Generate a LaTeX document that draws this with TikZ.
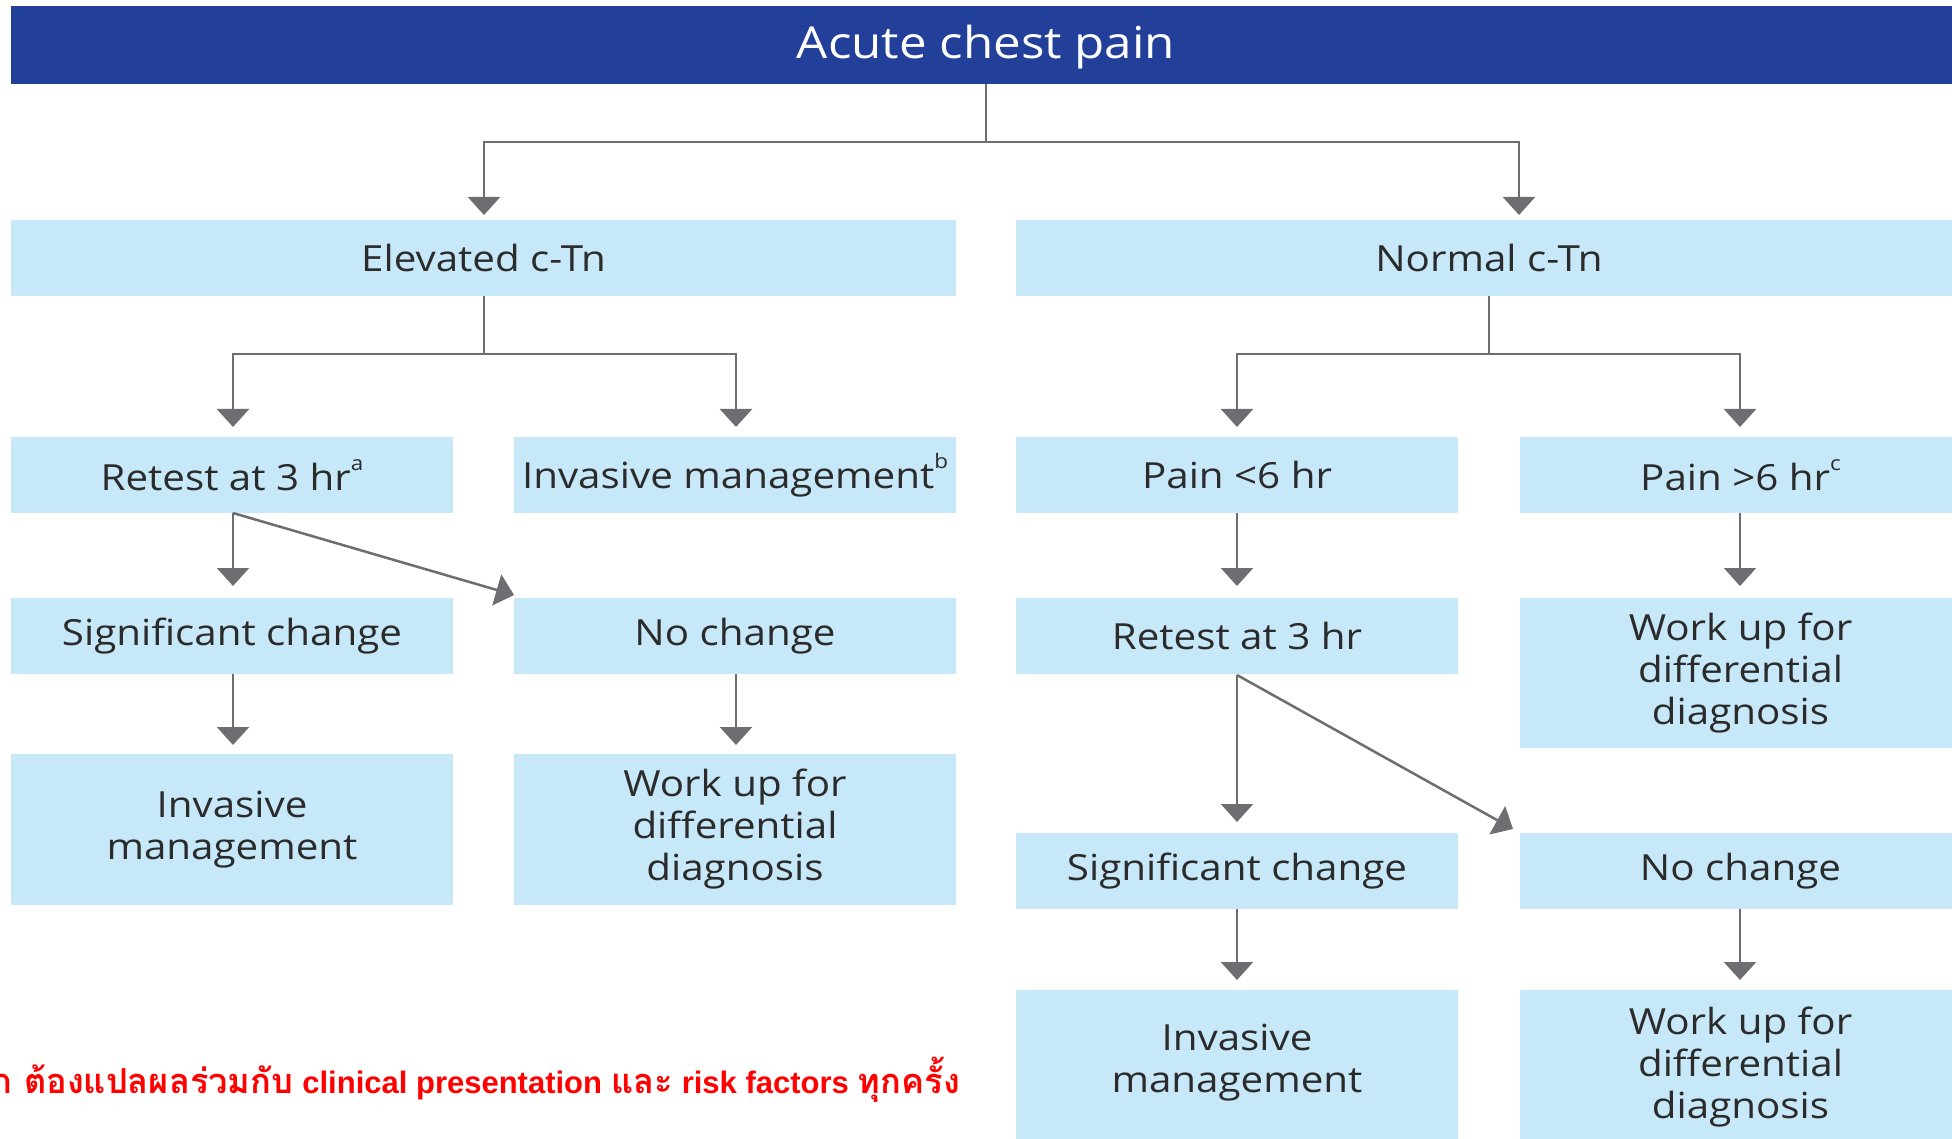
\documentclass[tikz,border=0pt]{standalone}
\usepackage{fontspec}
\setmainfont{Open Sans}[FakeStretch=1.12]
\newfontfamily\thaifont[Script=Thai,Scale=1.11]{Loma}
\newfontfamily\latinfont{Liberation Sans}
\usetikzlibrary{arrows.meta}
\definecolor{hdrblue}{HTML}{22409A}
\definecolor{boxblue}{HTML}{C7E8F8}
\definecolor{linegray}{HTML}{6D6E71}
\definecolor{txtgray}{HTML}{2B2B2B}
\definecolor{notered}{HTML}{FF0000}
\newcommand{\supmark}[1]{\raisebox{0.55em}{\fontsize{20}{20}\selectfont #1}}
\begin{document}
\begin{tikzpicture}[x=1pt,y=-1pt,
  box/.style={fill=boxblue, draw=none, inner sep=0pt, align=center, text=txtgray,
    font=\fontsize{36}{42}\selectfont, minimum height=76pt, minimum width=442pt},
  conn/.style={draw=linegray, line width=2.5pt},
  arr/.style={conn, -{Triangle[width=32pt,length=18pt]}},
]
\useasboundingbox[fill=white] (0,0) rectangle (1952,1139);

% header
\node[fill=hdrblue, inner sep=0pt, minimum width=1950pt, minimum height=78pt] (hdr) at (986,45) {};
\node[text=white, inner sep=0pt, font=\fontsize{44}{50}\selectfont] (hdrt) at (986,47) {Acute chest pain};

% level 2
\node[box, minimum width=945pt] (el) at (483.5,258) {Elevated c-Tn};
\node[box, minimum width=946pt] (nm) at (1489,258) {Normal c-Tn};

% level 3
\node[box] (rt1) at (232,475) {Retest at 3 hr\supmark{a}};
\node[box] (ib) at (735,475) {Invasive management\supmark{b}};
\node[box] (pl) at (1237,475) {Pain <6 hr};
\node[box] (pg) at (1740.5,475) {Pain >6 hr\supmark{c}};

% level 4
\node[box] (sc1) at (232,636) {Significant change};
\node[box] (nc1) at (735,636) {No change};
\node[box] (rt2) at (1237,636) {Retest at 3 hr};
\node[box, minimum height=150pt] (wu3) at (1740.5,673) {Work up for\\differential\\diagnosis};

% level 5 left
\node[box, minimum height=151pt] (im1) at (232,829.5) {Invasive\\management};
\node[box, minimum height=151pt] (wu1) at (735,829.5) {Work up for\\differential\\diagnosis};

% right lower
\node[box] (sc2) at (1237,871) {Significant change};
\node[box] (nc2) at (1740.5,871) {No change};
\node[box, minimum height=160pt] (im2) at (1237,1070) {};
\node[box, minimum height=160pt] (wu2) at (1740.5,1070) {};
\node[text=txtgray, align=center, inner sep=0pt, font=\fontsize{36}{42}\selectfont] (im2t) at (1237,1063) {Invasive\\management};
\node[text=txtgray, align=center, inner sep=0pt, font=\fontsize{36}{42}\selectfont] (wu2t) at (1740.5,1067) {Work up for\\differential\\diagnosis};

% red note
\node[anchor=base east, inner sep=0pt, text=notered, font=\fontsize{31}{36}\selectfont\bfseries] (note) at (960,1093)
  {{\thaifont\bfseries ก ต้องแปลผลร่วมกับ} {\latinfont\bfseries clinical presentation} {\thaifont\bfseries และ} {\latinfont\bfseries risk factors} {\thaifont\bfseries ทุกครั้ง}};

% junction coordinates
\coordinate (j0) at (986,142);
\coordinate (elin) at (484,215);
\coordinate (nmin) at (1519,215);
\coordinate (j1) at (484,354);
\coordinate (rt1in) at (233,427);
\coordinate (ibin) at (736,427);
\coordinate (j2) at (1489,354);
\coordinate (plin) at (1237,427);
\coordinate (pgin) at (1740,427);
\coordinate (rt1out) at (233,513);
\coordinate (sc1in) at (233,586);
\coordinate (nc1in) at (514,595);
\coordinate (pgout) at (1740,513);
\coordinate (wu3in) at (1740,586);
\coordinate (plout) at (1237,513);
\coordinate (rt2in) at (1237,586);
\coordinate (sc1out) at (233,674);
\coordinate (im1in) at (233,745);
\coordinate (nc1out) at (736,674);
\coordinate (wu1in) at (736,745);
\coordinate (rt2out) at (1237,675);
\coordinate (sc2in) at (1237,822);
\coordinate (nc2in) at (1513,829);
\coordinate (sc2out) at (1237,909);
\coordinate (im2in) at (1237,980);
\coordinate (nc2out) at (1740,909);
\coordinate (wu2in) at (1740,980);

% connectors
\draw[conn] (hdr.south -| j0) -- (j0);
\draw[arr] (j0) -| (elin);
\draw[arr] (j0) -| (nmin);
\draw[conn] (el.south -| j1) -- (j1);
\draw[arr] (j1) -| (rt1in);
\draw[arr] (j1) -| (ibin);
\draw[conn] (nm.south -| j2) -- (j2);
\draw[arr] (j2) -| (plin);
\draw[arr] (j2) -| (pgin);
\draw[arr] (rt1out) -- (sc1in);
\draw[arr] (rt1out) -- (nc1in);
\draw[arr] (plout) -- (rt2in);
\draw[arr] (pgout) -- (wu3in);
\draw[arr] (sc1out) -- (im1in);
\draw[arr] (nc1out) -- (wu1in);
\draw[arr] (rt2out) -- (sc2in);
\draw[arr] (rt2out) -- (nc2in);
\draw[arr] (sc2out) -- (im2in);
\draw[arr] (nc2out) -- (wu2in);
\end{tikzpicture}
\end{document}
